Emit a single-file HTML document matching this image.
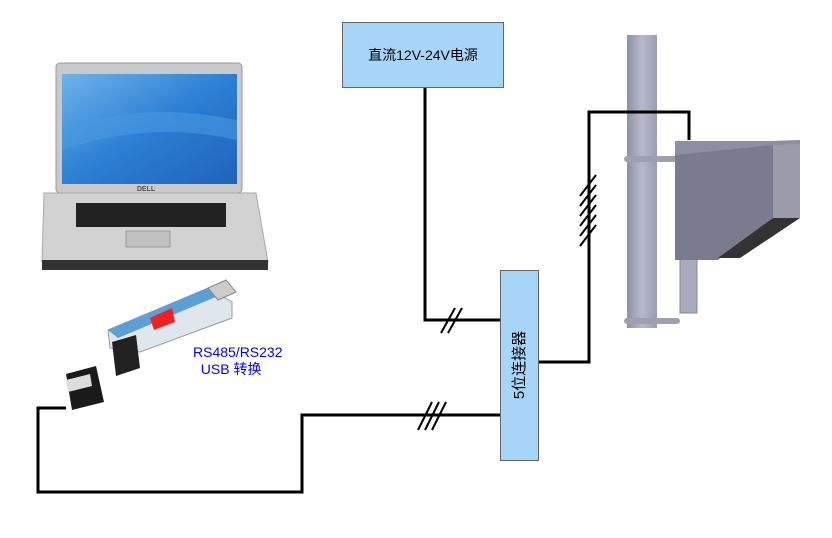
<!DOCTYPE html>
<html><head><meta charset="utf-8"><style>
body{margin:0;background:#fff;width:832px;height:538px;overflow:hidden;position:relative;font-family:"Liberation Sans","Noto Sans CJK SC",sans-serif}
.a{position:absolute}
</style></head><body>
<svg class="a" style="left:0;top:0" width="832" height="538">
<defs>
<linearGradient id="scr" x1="0" y1="0" x2="1" y2="1"><stop offset="0" stop-color="#6fb3ea"/><stop offset=".5" stop-color="#2b7fd4"/><stop offset="1" stop-color="#1f63b8"/></linearGradient>
<linearGradient id="pole" x1="0" x2="1"><stop offset="0" stop-color="#8e90a4"/><stop offset=".5" stop-color="#b8bacb"/><stop offset="1" stop-color="#9a9cb0"/></linearGradient>
</defs>
<!-- laptop -->
<rect x="56" y="63" width="186" height="130" rx="4" fill="#c9c9c9" stroke="#999"/>
<rect x="62" y="74" width="175" height="110" fill="url(#scr)"/>
<path d="M62 130 Q140 100 237 120 L237 140 Q150 120 62 150Z" fill="#4a97e0" opacity=".6"/>
<path d="M44 193 L256 193 L268 262 L42 262Z" fill="#d2d2d2" stroke="#aaa"/>
<rect x="76" y="203" width="150" height="24" fill="#222"/>
<rect x="126" y="231" width="44" height="16" fill="#c0c0c0" stroke="#999"/>
<rect x="42" y="260" width="226" height="10" fill="#333"/>
<text x="146" y="191" font-size="7" font-weight="bold" fill="#555" text-anchor="middle">DELL</text>
<!-- pole & box -->
<rect x="627" y="35" width="30" height="293" fill="url(#pole)"/>
<rect x="680" y="258" width="17" height="55" fill="#a9abbc" stroke="#888"/>
<rect x="624" y="156" width="56" height="6" rx="3" fill="#9ea0b2"/>
<rect x="624" y="318" width="56" height="6" rx="3" fill="#9ea0b2"/>
<path d="M675 141 L773 141 L773 218 L718 260 L675 260Z" fill="#7a7b8e"/>
<path d="M773 141 L800 140 L800 218 L773 218Z" fill="#9a9bab"/>
<path d="M675 141 L773 141 L800 140 L800 144 L773 145 L675 155Z" fill="#8d8ea1"/>
<path d="M773 218 L800 218 L740 258 L718 258Z" fill="#333"/>
<!-- lines -->
<g stroke="#000" stroke-width="3" fill="none">
<polyline points="425,88 425,320 500,320"/>
<polyline points="539,362 589,362 589,112 689,112 689,140"/>
<polyline points="500,415 302,415 302,492 38,492 38,408 66,408"/>
</g>
<g stroke="#000" stroke-width="2">
<line x1="441" y1="333" x2="455" y2="308"/><line x1="448" y1="333" x2="462" y2="308"/>
<line x1="418" y1="430" x2="432" y2="402"/><line x1="425" y1="430" x2="439" y2="402"/><line x1="432" y1="430" x2="446" y2="402"/>
<line x1="580" y1="196" x2="596" y2="175"/><line x1="580" y1="206" x2="596" y2="185"/><line x1="580" y1="216" x2="596" y2="195"/><line x1="580" y1="226" x2="596" y2="205"/><line x1="580" y1="236" x2="596" y2="215"/><line x1="580" y1="246" x2="596" y2="225"/>
</g>
<!-- USB converter -->
<path d="M108 330 L208 288 L232 302 L232 318 L140 352 L110 348Z" fill="#dfe6ec" stroke="#999"/>
<path d="M108 330 L208 288 L218 296 L118 338Z" fill="#5a9fd6"/>
<path d="M150 318 L172 308 L175 322 L154 330Z" fill="#e22"/>
<path d="M208 288 L226 280 L236 292 L218 300Z" fill="#ccc" stroke="#888"/>
<path d="M112 342 L136 335 L140 368 L116 376Z" fill="#222"/>
<path d="M66 374 L96 366 L104 402 L72 410Z" fill="#1a1a1a"/>
<path d="M66 380 L90 374 L92 386 L68 392Z" fill="#ddd"/>
</svg>
<div class="a" style="left:342px;top:22px;width:162px;height:66px;background:#a6d5f7;border:1px solid #666;box-sizing:border-box;font-size:14px;line-height:64px;text-align:center">直流12V-24V电源</div>
<div class="a" style="left:500px;top:270px;width:39px;height:191px;background:#a6d5f7;border:1px solid #666;box-sizing:border-box"></div>
<div class="a" style="left:440px;top:355px;width:160px;height:20px;transform:rotate(-90deg);font-size:15px;text-align:center;line-height:20px">5位连接器</div>
<div class="a" style="left:193px;top:344px;font-size:14px;color:#0000ff;line-height:17px">RS485/RS232<br>&nbsp;&nbsp;USB 转换</div>
</body></html>
